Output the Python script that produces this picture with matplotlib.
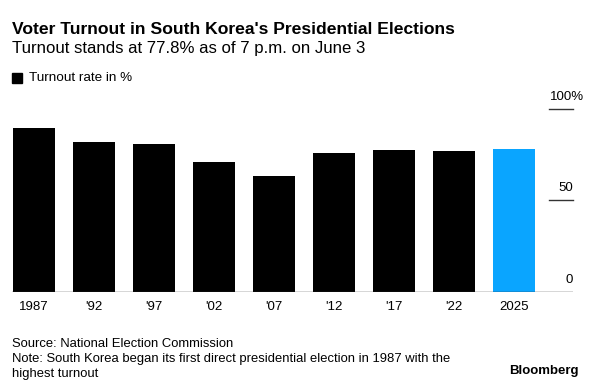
import numpy as np
import matplotlib
matplotlib.use("Agg")
import matplotlib.pyplot as plt
from matplotlib.transforms import offset_copy

# turnout per presidential election
years = ["1987", "'92", "'97", "'02", "'07", "'12", "'17", "'22", "2025"]
turnout = [89.2, 81.9, 80.7, 70.8, 63.0, 75.8, 77.2, 77.1, 77.8]
ytick_vals = [0, 50, 100]
ytick_text = ["0", "50", "100%"]

plt.rcParams["font.family"] = ["Liberation Sans", "DejaVu Sans"]

W, H = 600, 392
fig = plt.figure(figsize=(W / 100, H / 100), dpi=100)

def px(x, y):
    return x / W, 1 - y / H

# axes box in pixels: x 12..573, y 108.7 (100%) .. 291.5 (0)
ax = fig.add_axes([12 / W, 1 - 291.5 / H, (573 - 12) / W, (291.5 - 108.7) / H])

colors = ["black"] * (len(years) - 1) + ["#0AA5FF"]
x = np.arange(len(years))
ax.bar(x, turnout, width=0.7, color=colors, zorder=2)
ax.set_xlim(-0.37, 8.98)
ax.set_ylim(0, 100)

for s in ax.spines.values():
    s.set_visible(False)
ax.set_yticks([])
ax.set_xticks(x)
ax.set_xticklabels(years, fontsize=9.5)
ax.tick_params(axis="x", length=0, pad=7)

ax.axhline(0, color="#333333", lw=1, zorder=3)
gx0 = (549 - 12) / (573 - 12)
lab_tr = ax.get_yaxis_transform()
for v, t in zip(ytick_vals, ytick_text):
    if v > 0:
        ax.axhline(v, xmin=gx0, xmax=1, color="#333333", lw=1, clip_on=False)
    shift = 11 if t.endswith("%") else 0
    tr = offset_copy(lab_tr, fig=fig, x=shift, y=0, units="dots")
    ax.text(1.0, v + 6.5, t, transform=tr, ha="right", va="center", fontsize=9.5)

fig.text(*px(12, 30), "Voter Turnout in South Korea's Presidential Elections",
         fontsize=12.6, fontweight="bold", va="center")
fig.text(*px(12, 49), "Turnout stands at 77.8% as of 7 p.m. on June 3",
         fontsize=12.1, va="center")
fig.patches.append(plt.Rectangle(px(12, 83), 10 / W, 10 / H,
                                 transform=fig.transFigure, color="black"))
fig.text(*px(29, 78), "Turnout rate in %", fontsize=9.7, va="center")

note_fs = 9.4
fig.text(*px(12, 344), "Source: National Election Commission", fontsize=note_fs, va="center")
fig.text(*px(12, 359), "Note: South Korea began its first direct presidential election in 1987 with the",
         fontsize=note_fs, va="center")
fig.text(*px(12, 374), "highest turnout", fontsize=note_fs, va="center")
fig.text(*px(579, 371), "Bloomberg", fontsize=9.5, fontweight="bold",
         ha="right", va="center")

fig.savefig("out.png", dpi=100)
